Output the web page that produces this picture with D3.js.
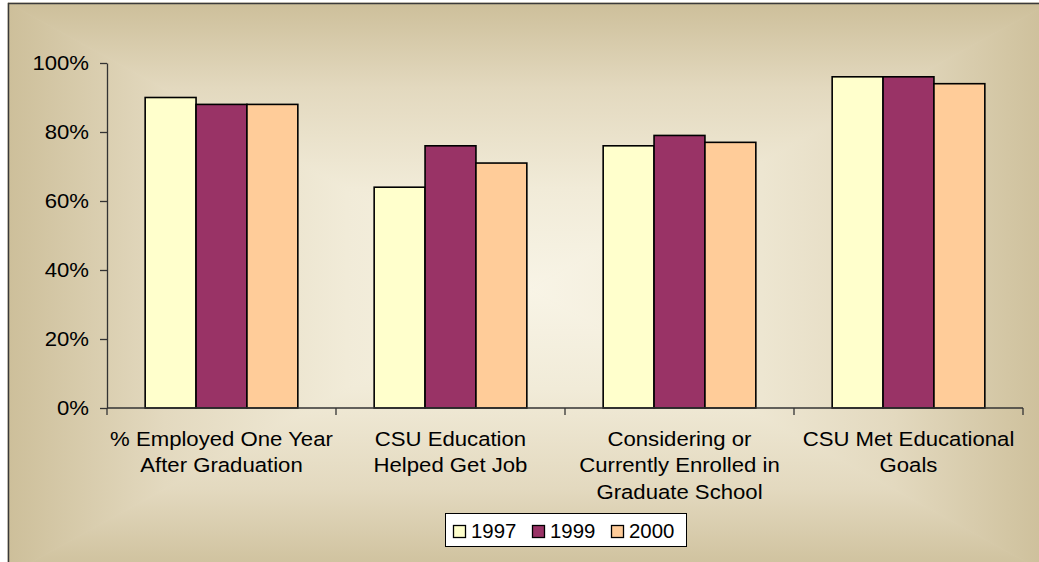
<!DOCTYPE html>
<html>
<head>
<meta charset="utf-8">
<script src="https://cdn.jsdelivr.net/npm/d3@7"></script>
<style>
  html, body { margin: 0; padding: 0; background: #ffffff; }
  svg { display: block; }
  text { font-family: "Liberation Sans", Arial, sans-serif; fill: #000; }
</style>
</head>
<body>
<svg id="chart" width="1039" height="562"></svg>
<script>
// ---- data ----
const categories = ["employed", "helped", "grad", "goals"];
const categoryLabels = [
  ["% Employed One Year", "After Graduation"],
  ["CSU Education", "Helped Get Job"],
  ["Considering or", "Currently Enrolled in", "Graduate School"],
  ["CSU Met Educational", "Goals"]
];
const seriesNames = ["1997", "1999", "2000"];
const values1997 = [0.90, 0.64, 0.76, 0.96];
const values1999 = [0.88, 0.76, 0.79, 0.96];
const values2000 = [0.88, 0.71, 0.77, 0.94];
const seriesColors = ["#FFFFCC", "#993366", "#FFCC99"];
const yTicks = [0, 0.2, 0.4, 0.6, 0.8, 1.0];

const seriesValues = [values1997, values1999, values2000];

const svg = d3.select("#chart");
const W = 1039, H = 562;

// ---- background (rectangular "from center" gradient) ----
const bx0 = 8, by0 = 3, bx1 = 1050, by1 = 575;
const cx = (bx0 + bx1) / 2, cy = (by0 + by1) / 2;
const defs = svg.append("defs");
const stops = [[0, "#cdbf9a"], [0.3, "#e3d9bf"], [0.65, "#f1ebd8"], [1, "#f8f4e6"]];
function grad(id, x1, y1, x2, y2) {
  const g = defs.append("linearGradient").attr("id", id)
    .attr("gradientUnits", "userSpaceOnUse")
    .attr("x1", x1).attr("y1", y1).attr("x2", x2).attr("y2", y2);
  stops.forEach(s => g.append("stop").attr("offset", s[0]).attr("stop-color", s[1]));
}
grad("gTop", cx, by0, cx, cy);
grad("gBottom", cx, by1, cx, cy);
grad("gLeft", bx0, cy, cx, cy);
grad("gRight", bx1, cy, cx, cy);

const bg = svg.append("g");
bg.append("rect").attr("x", bx0).attr("y", by0).attr("width", bx1 - bx0).attr("height", by1 - by0)
  .attr("fill", "#e8dfc8");
const tri = [
  ["gTop", [[bx0, by0], [bx1, by0], [cx, cy]]],
  ["gBottom", [[bx0, by1], [bx1, by1], [cx, cy]]],
  ["gLeft", [[bx0, by0], [bx0, by1], [cx, cy]]],
  ["gRight", [[bx1, by0], [bx1, by1], [cx, cy]]]
];
tri.forEach(t => {
  bg.append("polygon")
    .attr("points", t[1].map(p => p.join(",")).join(" "))
    .attr("fill", "url(#" + t[0] + ")")
    .attr("stroke", "url(#" + t[0] + ")")
    .attr("stroke-width", 0.8);
});
bg.append("rect").attr("x", bx0 + 0.5).attr("y", by0 + 0.5)
  .attr("width", bx1 - bx0).attr("height", by1 - by0)
  .attr("fill", "none").attr("stroke", "#3a3a3a").attr("stroke-width", 1.5);

// ---- scales ----
const plotLeft = 107, plotRight = 1023, plotTop = 63, plotBottom = 408;
const x = d3.scaleBand().domain(categories).range([plotLeft, plotRight]).paddingInner(0).paddingOuter(0);
const bw = x.bandwidth();
const gapFrac = 0.75 / 4.5; // Excel gap width 150%
const x1 = d3.scaleBand().domain(seriesNames).range([bw * gapFrac, bw * (1 - gapFrac)]).padding(0);
const y = d3.scaleLinear().domain([0, 1]).range([plotBottom, plotTop]);

function stretch(sel, k) {
  sel.each(function () {
    const len = this.getComputedTextLength();
    d3.select(this).attr("textLength", len * k).attr("lengthAdjust", "spacingAndGlyphs");
  });
}

// ---- bars ----
const barsG = svg.append("g");
seriesNames.forEach((s, si) => {
  barsG.selectAll(null)
    .data(categories.map((c, ci) => ({ c, v: seriesValues[si][ci] })))
    .join("rect")
    .attr("x", d => x(d.c) + x1(s))
    .attr("y", d => y(d.v))
    .attr("width", x1.bandwidth())
    .attr("height", d => y(0) - y(d.v))
    .attr("fill", seriesColors[si])
    .attr("stroke", "#000")
    .attr("stroke-width", 1.6);
});

// ---- y axis ----
const yAxis = svg.append("g")
  .attr("transform", `translate(${plotLeft},0)`)
  .call(d3.axisLeft(y).tickValues(yTicks).tickFormat(d3.format(".0%")).tickSize(7).tickSizeOuter(0).tickPadding(11));
yAxis.select(".domain").attr("stroke", "#333").attr("stroke-width", 1.3);
yAxis.selectAll(".tick line").attr("stroke", "#333").attr("stroke-width", 1.3);
yAxis.selectAll(".tick text")
  .style("font-family", '"Liberation Sans", Arial, sans-serif')
  .style("font-size", "20.5px").attr("fill", "#000");
stretch(yAxis.selectAll(".tick text"), 1.08);

// ---- x axis (ticks at category boundaries) ----
const xAxis = svg.append("g");
xAxis.append("line")
  .attr("x1", x.range()[0]).attr("x2", x.range()[1])
  .attr("y1", y(0)).attr("y2", y(0))
  .attr("stroke", "#333").attr("stroke-width", 1.3);
const boundaries = categories.map(c => x(c)).concat([x(categories[categories.length - 1]) + bw]);
xAxis.selectAll(".xt").data(boundaries).join("line")
  .attr("x1", d => d).attr("x2", d => d)
  .attr("y1", y(0)).attr("y2", y(0) + 7)
  .attr("stroke", "#333").attr("stroke-width", 1.3);

const labelG = svg.append("g");
categories.forEach((c, ci) => {
  const t = labelG.append("text")
    .attr("text-anchor", "middle")
    .style("font-size", "20.5px");
  categoryLabels[ci].forEach((line, li) => {
    t.append("tspan")
      .attr("x", x(c) + bw / 2)
      .attr("y", y(0) + 38 + li * 26.3)
      .text(line);
  });
  stretch(t.selectAll("tspan"), 1.08);
});

// ---- legend ----
const lg = svg.append("g");
const legX = 445, legY = 513, legW = 241, legH = 33, itemStep = 79;
lg.append("rect").attr("x", legX + 0.5).attr("y", legY + 0.5).attr("width", legW).attr("height", legH)
  .attr("fill", "#fff").attr("stroke", "#000").attr("stroke-width", 1);
seriesNames.forEach((s, si) => {
  const ix = legX + 8 + si * itemStep;
  lg.append("rect").attr("x", ix + 0.5).attr("y", legY + 12.5).attr("width", 12).attr("height", 12)
    .attr("fill", seriesColors[si]).attr("stroke", "#000").attr("stroke-width", 1.3);
  const t = lg.append("text").attr("x", ix + 18).attr("y", legY + 25)
    .style("font-size", "20px").text(s);
  stretch(t, 1.02);
});
</script>
</body>
</html>
